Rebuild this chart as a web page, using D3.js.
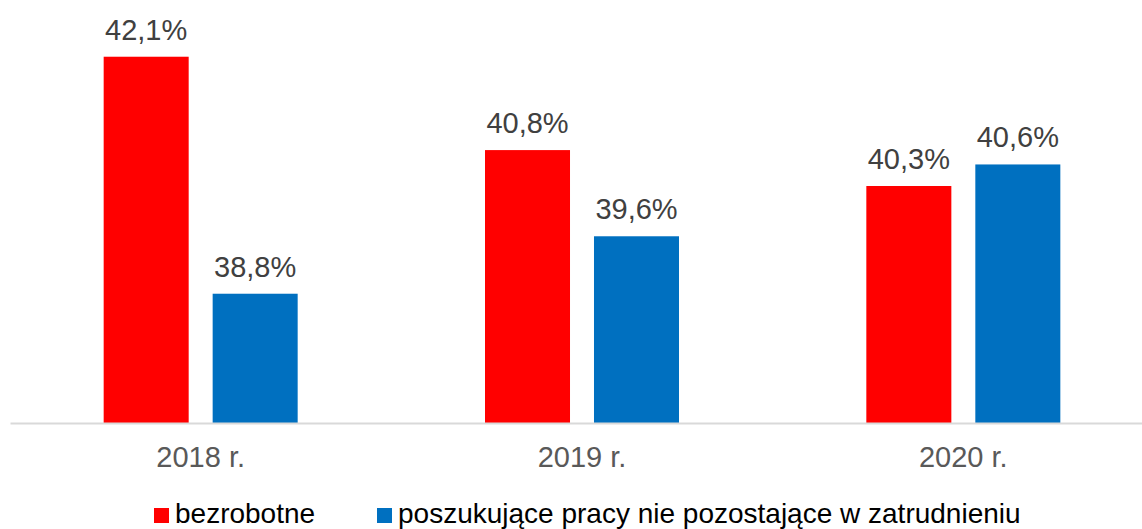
<!DOCTYPE html>
<html>
<head>
<meta charset="utf-8">
<script src="https://cdn.jsdelivr.net/npm/d3@7"></script>
<style>
  body { margin: 0; background: #fff; }
  svg { font-family: "Liberation Sans", Arial, sans-serif; }
</style>
</head>
<body>
<svg id="chart" width="1142" height="529"></svg>
<script>
const categories = ["2018 r.", "2019 r.", "2020 r."];
const seriesNames = ["bezrobotne", "poszukujące pracy nie pozostające w zatrudnieniu"];
const bezrobotne = [42.1, 40.8, 40.3];
const poszukujace = [38.8, 39.6, 40.6];
const colors = ["#ff0000", "#0070c0"];

const svg = d3.select("#chart");
const margin = { top: 28, right: -12, bottom: 106, left: 10 };
const width = 1142 - margin.left - margin.right;
const height = 529 - margin.top - margin.bottom;

const chart = svg.append("g")
  .attr("transform", `translate(${margin.left},${margin.top})`);

// category bands, and the two bars inside each band
const x = d3.scaleBand().domain(categories).range([0, width]);
const x1 = d3.scaleBand().domain(seriesNames).range([0, 194]).paddingInner(0.22);
const y = d3.scaleLinear().domain([37, 42.5]).range([height, 0]);

const rows = categories.map((c, i) => ({ cat: c, vals: [bezrobotne[i], poszukujace[i]] }));

const groups = chart.selectAll("g.grp")
  .data(rows)
  .enter().append("g")
  .attr("class", "grp")
  .attr("transform", d => `translate(${x(d.cat) + x.bandwidth() / 2 - 97},0)`);

groups.selectAll("rect")
  .data(d => d.vals.map((v, j) => ({ name: seriesNames[j], v, j })))
  .enter().append("rect")
  .attr("x", d => x1(d.name))
  .attr("width", x1.bandwidth())
  .attr("y", d => y(d.v))
  .attr("height", d => height - y(d.v))
  .attr("fill", d => colors[d.j]);

// value labels
groups.selectAll("text.val")
  .data(d => d.vals.map((v, j) => ({ name: seriesNames[j], v, j })))
  .enter().append("text")
  .attr("class", "val")
  .attr("x", d => x1(d.name) + x1.bandwidth() / 2)
  .attr("y", d => y(d.v) - 17)
  .attr("text-anchor", "middle")
  .attr("fill", "#404040")
  .style("font-size", "29px")
  .text(d => d3.format(".1f")(d.v).replace(".", ",") + "%");

// axis
const xAxis = chart.append("g")
  .attr("transform", `translate(0,${height})`)
  .call(d3.axisBottom(x).tickSize(0).tickPadding(23));
xAxis.select(".domain").attr("stroke", "#d9d9d9").attr("stroke-width", 2);
xAxis.selectAll("text")
  .attr("fill", "#595959")
  .style("font-size", "29px")
  .style("font-family", "'Liberation Sans', Arial, sans-serif");

// legend
const legend = svg.append("g").attr("transform", "translate(154,508)");
const legendX = [0, 223];
seriesNames.forEach((n, i) => {
  const g = legend.append("g").attr("transform", `translate(${legendX[i]},0)`);
  g.append("rect").attr("width", 15).attr("height", 15).attr("fill", colors[i]);
  g.append("text")
    .attr("x", 21)
    .attr("y", 15)
    .attr("fill", "#000")
    .style("font-size", "28px")
    .text(n);
});
</script>
</body>
</html>
